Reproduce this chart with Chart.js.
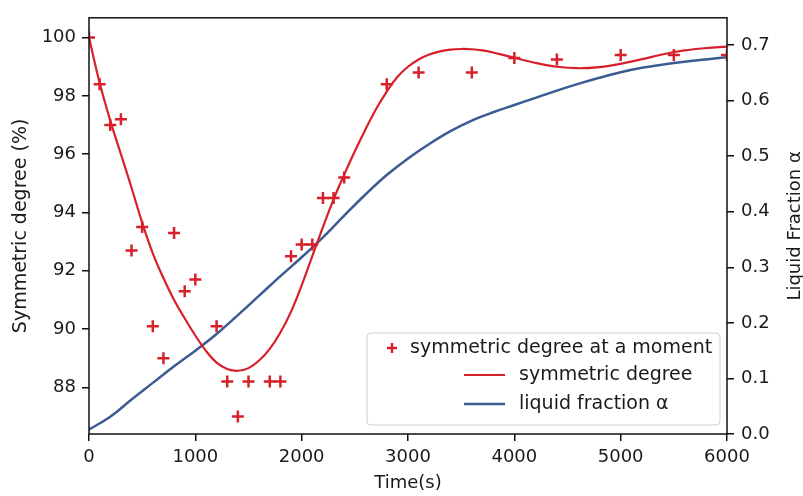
<!DOCTYPE html>
<html lang="en">

<head>
  <meta charset="UTF-8" />
  <title>Symmetric degree and liquid fraction</title>
  <style>
    body { margin: 0; background: #fff; }
    #chart { display: block; }
  </style>
</head>

<body>
  <canvas id="chart" width="803" height="496"></canvas>

  <script src="https://cdn.jsdelivr.net/npm/chart.js@4.4.0/dist/chart.umd.min.js"></script>
  <script>
    // measured points (red crosses)
    var markTime = [0, 100, 200, 300, 400, 500, 600, 700, 800, 900, 1000, 1200, 1300, 1400, 1500, 1700, 1800,
      1900, 2000, 2100, 2200, 2300, 2400, 2800, 3100, 3600, 4000, 4400, 5000, 5500, 6000];
    var markSym = [100, 98.4, 97.0, 97.2, 92.7, 93.5, 90.1, 89.0, 93.3, 91.3, 91.7, 90.1, 88.2, 87.0, 88.2, 88.2, 88.2,
      92.5, 92.9, 92.9, 94.5, 94.5, 95.2, 98.4, 98.8, 98.8, 99.3, 99.25, 99.4, 99.4, 99.4];

    // fitted symmetric degree curve
    var fitTime = [0, 100, 200, 300, 400, 500, 600, 700, 800, 900, 1000, 1100, 1200, 1300, 1400, 1500, 1600, 1700,
      1800, 1900, 2000, 2100, 2200, 2300, 2400, 2500, 2600, 2700, 2800, 2900, 3000, 3100, 3200, 3300, 3400, 3500,
      3600, 3700, 3800, 3900, 4000, 4200, 4400, 4600, 4800, 5000, 5200, 5400, 5600, 5800, 6000];
    var fitSym = [100, 98.45, 97.15, 96.0, 94.85, 93.65, 92.6, 91.75, 91.0, 90.37, 89.78, 89.25, 88.85, 88.63, 88.57,
      88.66, 88.92, 89.32, 89.88, 90.6, 91.5, 92.5, 93.5, 94.45, 95.3, 96.1, 96.85, 97.55, 98.15, 98.65, 99.0, 99.25,
      99.42, 99.53, 99.59, 99.61, 99.6, 99.56, 99.49, 99.4, 99.31, 99.13, 99.0, 98.95, 98.99, 99.1, 99.26, 99.43,
      99.56, 99.64, 99.69];

    // liquid fraction (right axis)
    var alphaTime = [0, 200, 400, 600, 800, 1000, 1200, 1400, 1600, 1800, 2000, 2200, 2400, 2600, 2800, 3000, 3200,
      3400, 3600, 3800, 4000, 4200, 4400, 4600, 4800, 5000, 5200, 5400, 5600, 5800, 6000];
    var alphaVal = [0.008, 0.031, 0.062, 0.092, 0.122, 0.150, 0.180, 0.214, 0.249, 0.284, 0.318, 0.354, 0.393, 0.431,
      0.466, 0.496, 0.522, 0.545, 0.564, 0.579, 0.592, 0.605, 0.618, 0.630, 0.641, 0.651, 0.659, 0.665, 0.670,
      0.674, 0.678];

    var xTicks = [0, 1000, 2000, 3000, 4000, 5000, 6000];
    var symTicks = [88, 90, 92, 94, 96, 98, 100];
    var alphaTicks = [0, 0.1, 0.2, 0.3, 0.4, 0.5, 0.6, 0.7];

    var RED = "#d7202a";
    var BLUE = "#3b5b93";
    var FONT = "'DejaVu Sans', sans-serif";

    function pairs(xs, ys) {
      return xs.map(function (x, i) { return { x: x, y: ys[i] }; });
    }
    function setTicks(list) {
      return function (scale) { scale.ticks = list.map(function (v) { return { value: v }; }); };
    }

    // frame, right axis title and legend box
    var extras = {
      id: "extras",
      afterDraw: function (chart) {
        var ctx = chart.ctx;
        var a = chart.chartArea;
        ctx.save();
        ctx.strokeStyle = "#111";
        ctx.lineWidth = 1.5;
        ctx.strokeRect(a.left, a.top, a.right - a.left, a.bottom - a.top);

        ctx.fillStyle = "#1a1a1a";
        ctx.font = "18px " + FONT;
        ctx.textAlign = "center";
        ctx.textBaseline = "middle";
        ctx.translate(795, (a.top + a.bottom) / 2);
        ctx.rotate(-Math.PI / 2);
        ctx.fillText("Liquid Fraction \u03b1", 0, 0);
        ctx.restore();

        // legend
        var bx = a.right - 360, by = a.bottom - 101, bw = 353, bh = 92;
        ctx.save();
        ctx.fillStyle = "rgba(255,255,255,0.85)";
        ctx.strokeStyle = "#d0d0d0";
        ctx.lineWidth = 1;
        ctx.beginPath();
        ctx.roundRect(bx, by, bw, bh, 4);
        ctx.fill();
        ctx.stroke();

        ctx.font = "19px " + FONT;
        ctx.fillStyle = "#1a1a1a";
        ctx.textAlign = "left";
        ctx.textBaseline = "middle";
        var r1 = by + 15, r2 = by + 42, r3 = by + 71;

        ctx.strokeStyle = RED;
        ctx.lineWidth = 2.5;
        ctx.beginPath();
        ctx.moveTo(bx + 20, r1); ctx.lineTo(bx + 30, r1);
        ctx.moveTo(bx + 25, r1 - 5); ctx.lineTo(bx + 25, r1 + 5);
        ctx.stroke();
        ctx.fillText("symmetric degree at a moment", bx + 43, r1);

        ctx.lineWidth = 2;
        ctx.beginPath();
        ctx.moveTo(bx + 97, r2); ctx.lineTo(bx + 138, r2);
        ctx.stroke();
        ctx.fillText("symmetric degree", bx + 152, r2);

        ctx.strokeStyle = BLUE;
        ctx.lineWidth = 2.5;
        ctx.beginPath();
        ctx.moveTo(bx + 97, r3); ctx.lineTo(bx + 138, r3);
        ctx.stroke();
        ctx.fillText("liquid fraction \u03b1", bx + 152, r3);
        ctx.restore();
      }
    };

    var ctx = document.getElementById("chart").getContext("2d");
    var myChart = new Chart(ctx, {
      type: "scatter",
      data: {
        datasets: [
          {
            label: "symmetric degree at a moment",
            data: pairs(markTime, markSym),
            yAxisID: "y",
            pointStyle: "cross",
            pointRadius: 6,
            pointBorderWidth: 2.5,
            borderColor: RED,
            backgroundColor: RED,
            showLine: false,
            order: 1,
          },
          {
            label: "symmetric degree",
            data: pairs(fitTime, fitSym),
            yAxisID: "y",
            showLine: true,
            pointRadius: 0,
            borderColor: RED,
            borderWidth: 2.2,
            tension: 0.4,
            order: 2,
          },
          {
            label: "liquid fraction α",
            data: pairs(alphaTime, alphaVal),
            yAxisID: "y1",
            showLine: true,
            pointRadius: 0,
            borderColor: BLUE,
            borderWidth: 2.5,
            tension: 0.4,
            order: 3,
          },
        ],
      },
      options: {
        responsive: false,
        animation: false,
        layout: { padding: { top: 12, left: 0, right: 0, bottom: 0 } },
        plugins: {
          legend: { display: false },
          tooltip: { enabled: false },
        },
        scales: {
          x: {
            type: "linear",
            min: 0,
            max: 6000,
            afterFit: function (s) { s.height = 62; },
            afterBuildTicks: setTicks(xTicks),
            border: { display: false },
            grid: { drawOnChartArea: false, drawTicks: true, tickLength: 7, tickColor: "#111", lineWidth: 1.5 },
            ticks: {
              color: "#1a1a1a",
              font: { family: FONT, size: 18 },
              padding: 6,
              maxRotation: 0,
              callback: function (v) { return String(v); },
            },
            title: { display: true, text: "Time(s)", color: "#1a1a1a", font: { family: FONT, size: 18 }, padding: { top: 0, bottom: 2 } },
          },
          y: {
            position: "left",
            min: 86.4,
            max: 100.68,
            afterFit: function (s) { s.width = 89; },
            afterBuildTicks: setTicks(symTicks),
            border: { display: false },
            grid: { drawOnChartArea: false, drawTicks: true, tickLength: 7, tickColor: "#111", lineWidth: 1.5 },
            ticks: { color: "#1a1a1a", font: { family: FONT, size: 18 }, padding: 6 },
            title: { display: true, text: "Symmetric degree (%)", color: "#1a1a1a", font: { family: FONT, size: 19 }, padding: { top: 10, bottom: 0 } },
          },
          y1: {
            position: "right",
            min: 0,
            max: 0.749,
            afterFit: function (s) { s.width = 76; },
            afterBuildTicks: setTicks(alphaTicks),
            border: { display: false },
            grid: { drawOnChartArea: false, drawTicks: true, tickLength: 7, tickColor: "#111", lineWidth: 1.5 },
            ticks: {
              color: "#1a1a1a",
              font: { family: FONT, size: 18 },
              padding: 7,
              callback: function (v) { return v.toFixed(1); },
            },
          },
        },
      },
      plugins: [extras],
    });
  </script>
</body>

</html>
